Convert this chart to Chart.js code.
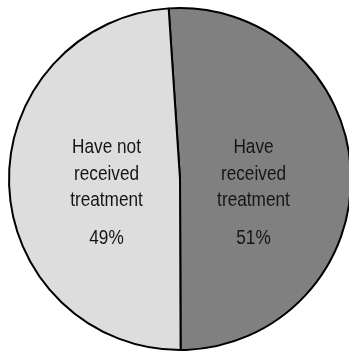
<!DOCTYPE html>
<html>
<head>
<meta charset="utf-8">
<script src="https://cdn.jsdelivr.net/npm/chart.js@4.4.1/dist/chart.umd.min.js"></script>
<style>
  html, body { margin: 0; padding: 0; background: #fff; overflow: hidden; }
  #wrap { width: 360px; height: 353px; }
</style>
</head>
<body>
<div id="wrap"><canvas id="pie" width="360" height="353"></canvas></div>
<script>
// Treatment status split
const categories = ['Have received treatment', 'Have not received treatment'];
const labelLines = [['Have', 'received', 'treatment'], ['Have not', 'received', 'treatment']];
const shares = [51, 49];
const sliceColors = ['#808080', '#dddddd'];

const FONT = '"Liberation Sans", Arial, sans-serif';
const NARROW = 0.84; // horizontal squeeze for a condensed look

// Writes the category name and its percentage inside each slice
const sliceLabels = {
  id: 'sliceLabels',
  afterDatasetsDraw(chart) {
    const ctx = chart.ctx;
    const meta = chart.getDatasetMeta(0);
    const values = chart.data.datasets[0].data;
    const total = values.reduce((a, b) => a + b, 0);
    meta.data.forEach((arc, i) => {
      const p = arc.getProps(['x', 'y', 'startAngle', 'endAngle', 'outerRadius'], true);
      const mid = (p.startAngle + p.endAngle) / 2;
      const x = p.x + Math.cos(mid) * p.outerRadius * 0.43;
      const y = p.y;
      const texts = labelLines[i].map((t, k) => [t, y - 26 + k * 26.5]);
      texts.push([Math.round(values[i] / total * 100) + '%', y + 65]);
      ctx.save();
      ctx.translate(x, 0);
      ctx.scale(NARROW, 1);
      ctx.fillStyle = '#151515';
      ctx.font = '20.5px ' + FONT;
      ctx.textAlign = 'center';
      ctx.textBaseline = 'alphabetic';
      texts.forEach(([t, ty]) => ctx.fillText(t, 0, ty));
      ctx.restore();
    });
  }
};

new Chart(document.getElementById('pie'), {
  type: 'pie',
  data: {
    labels: categories,
    datasets: [{
      data: shares,
      backgroundColor: sliceColors,
      borderColor: '#000000',
      borderWidth: 2
    }]
  },
  options: {
    responsive: false,
    animation: false,
    rotation: -3.8,
    layout: { padding: { left: 8, right: 8, top: 7, bottom: 2 } },
    plugins: {
      legend: { display: false },
      tooltip: { enabled: false }
    }
  },
  plugins: [sliceLabels]
});
</script>
</body>
</html>
